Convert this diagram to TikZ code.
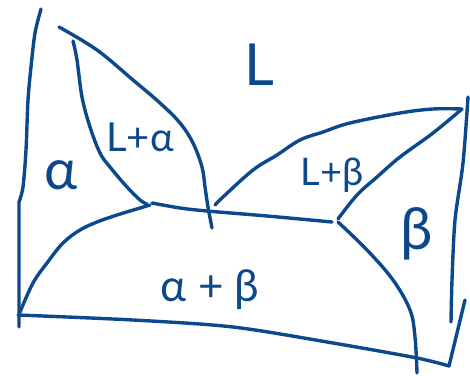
\documentclass[tikz,border=0pt]{standalone}
\usepackage{fontspec}
\setmainfont{Lato}
\definecolor{ink}{RGB}{12,72,140}
\tikzset{
	ligne/.style={line width=3.4pt,color=ink,line cap=round,line join=round},
	phase/.style={color=ink,inner sep=0pt,font=\fontsize{40}{40}\selectfont},
}
\begin{document}
\begin{tikzpicture}[x=1pt,y=-1pt]
		\useasboundingbox (0,0) rectangle (470,375);

		% Axes
		\draw[ligne] plot[smooth,tension=0.5] coordinates {(41,9) (35,33) (31,67) (28,100) (26,150) (23,187) (19,202)} -- (19,327);
		\draw[ligne] plot[smooth,tension=0.5] coordinates {(468,97) (463,163) (455,220) (452,280) (451,322)};
		\draw[ligne] (465,300) -- (449,366);
		\draw[ligne] plot[smooth,tension=0.5] coordinates {(18,315) (133,320) (233,327) (333,343) (417,358) (449,366)};

		% Liquidus et solidus (alpha)
		\draw[ligne] plot[smooth,tension=0.6] coordinates {(59,27) (97,50) (133,80) (160,103) (180,123) (193,143) (202,167) (205,187) (208,207) (212,228)};
		\draw[ligne] plot[smooth,tension=0.6] coordinates {(73,41) (77,60) (82,97) (90,127) (100,153) (110,167) (127,187) (140,200) (147,204)};

		% Liquidus et solidus (beta)
		\draw[ligne] plot[smooth,tension=0.6] coordinates {(215,205) (223,197) (253,170) (277,155) (300,140) (323,132) (350,123) (400,113) (433,109) (462,109)};
		\draw[ligne] plot[smooth,tension=0.6] coordinates {(462,109) (433,133) (400,157) (377,177) (357,195) (338,219)};

		% Palier eutectique
		\draw[ligne] plot[smooth,tension=0.5] coordinates {(152,203) (180,208) (207,211) (267,216) (332,222)};

		% Solvus
		\draw[ligne] plot[smooth,tension=0.6] coordinates {(150,205) (140,208) (117,215) (97,222) (80,230) (63,243) (47,263) (33,283) (20,312)};
		\draw[ligne] plot[smooth,tension=0.6] coordinates {(338,222) (367,250) (393,280) (410,310) (415,337) (417,373)};

		% Domaines
		\node[phase,font=\fontsize{58}{58}\selectfont] (liq) at (259,65) {L};
		\node[phase] (liqa) at (140,137) {L+α};
		\node[phase,font=\fontsize{56}{56}\selectfont] (alpha) at (61,175) {α};
		\node[phase,font=\fontsize{38}{38}\selectfont] (liqb) at (332,175) {L+β};
		\node[phase,font=\fontsize{58}{58}\selectfont] (beta) at (417,234) {β};
		\node[phase,font=\fontsize{44}{44}\selectfont] (ab) at (210,290) {α + β};

\end{tikzpicture}
\end{document}
